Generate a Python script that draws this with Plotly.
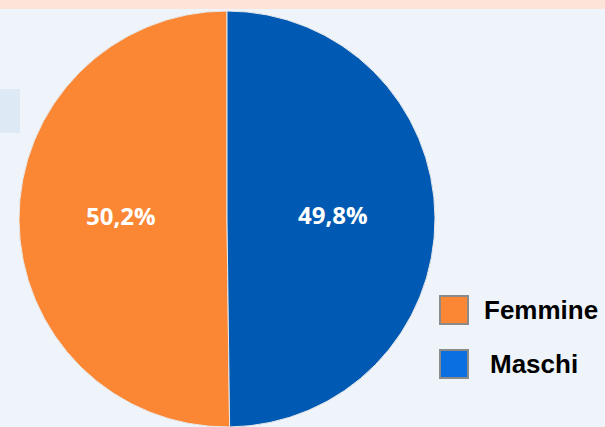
import math
import plotly.graph_objects as go

categories = ["Femmine", "Maschi"]
values = [50.2, 49.8]
slice_colors = ["#FB8634", "#005AB3"]
legend_colors = ["#FB8634", "#0A6FE0"]

W, H = 605, 427
cx, r = 227, 208
cy_top = 219  # pixel from top

total = sum(values)
fig = go.Figure()
fig.add_trace(go.Pie(
    labels=categories, values=values, sort=False, direction="counterclockwise",
    rotation=-values[0] / total * 360,
    marker=dict(colors=slice_colors, line=dict(color="#E8E8E8", width=1)),
    textinfo="none", hoverinfo="label+percent", showlegend=False,
    domain=dict(x=[(cx - r) / W, (cx + r) / W], y=[0, (2 * r) / H]),
))

annotations = []
cum = 0.0
for cat, v in zip(categories, values):
    mid = (cum + v / 2) / total
    cum += v
    ang = math.pi / 2 + 2 * math.pi * mid  # left side first
    px = cx + 0.51 * r * math.cos(ang)
    py = cy_top - 0.51 * r * math.sin(ang) - 4
    annotations.append(dict(
        x=px / W, y=1 - py / H, xref="paper", yref="paper",
        text=f"{v:.1f}%".replace(".", ","), showarrow=False,
        font=dict(family="Open Sans", size=24, color="white", weight="bold"),
        xanchor="center", yanchor="middle",
    ))

shapes = [
    dict(type="rect", xref="paper", yref="paper", x0=0, x1=1, y0=1 - 9 / H, y1=1,
         fillcolor="#FDE4D8", line=dict(width=0), layer="below"),
    dict(type="rect", xref="paper", yref="paper", x0=0, x1=20 / W, y0=1 - 133 / H, y1=1 - 89 / H,
         fillcolor="#DDE9F5", line=dict(width=0), layer="below"),
]
leg_y = [310, 364]
leg_tx = [482, 488]
for i, cat in enumerate(categories):
    yc = leg_y[i]
    shapes.append(dict(type="rect", xref="paper", yref="paper",
                       x0=440 / W, x1=468 / W, y0=1 - (yc + 14) / H, y1=1 - (yc - 14) / H,
                       fillcolor=legend_colors[i], line=dict(color="#8A8A8A", width=2)))
    annotations.append(dict(
        x=leg_tx[i] / W, y=1 - yc / H, xref="paper", yref="paper", text=cat,
        showarrow=False, xanchor="left", yanchor="middle",
        font=dict(family="Liberation Sans", size=26, color="black", weight="bold"),
    ))

fig.update_layout(
    width=W, height=H, margin=dict(l=0, r=0, t=0, b=0),
    paper_bgcolor="#EFF4FB", plot_bgcolor="#EFF4FB",
    shapes=shapes, annotations=annotations, showlegend=False,
    separators=",.",
)
fig.write_html("out.html")
